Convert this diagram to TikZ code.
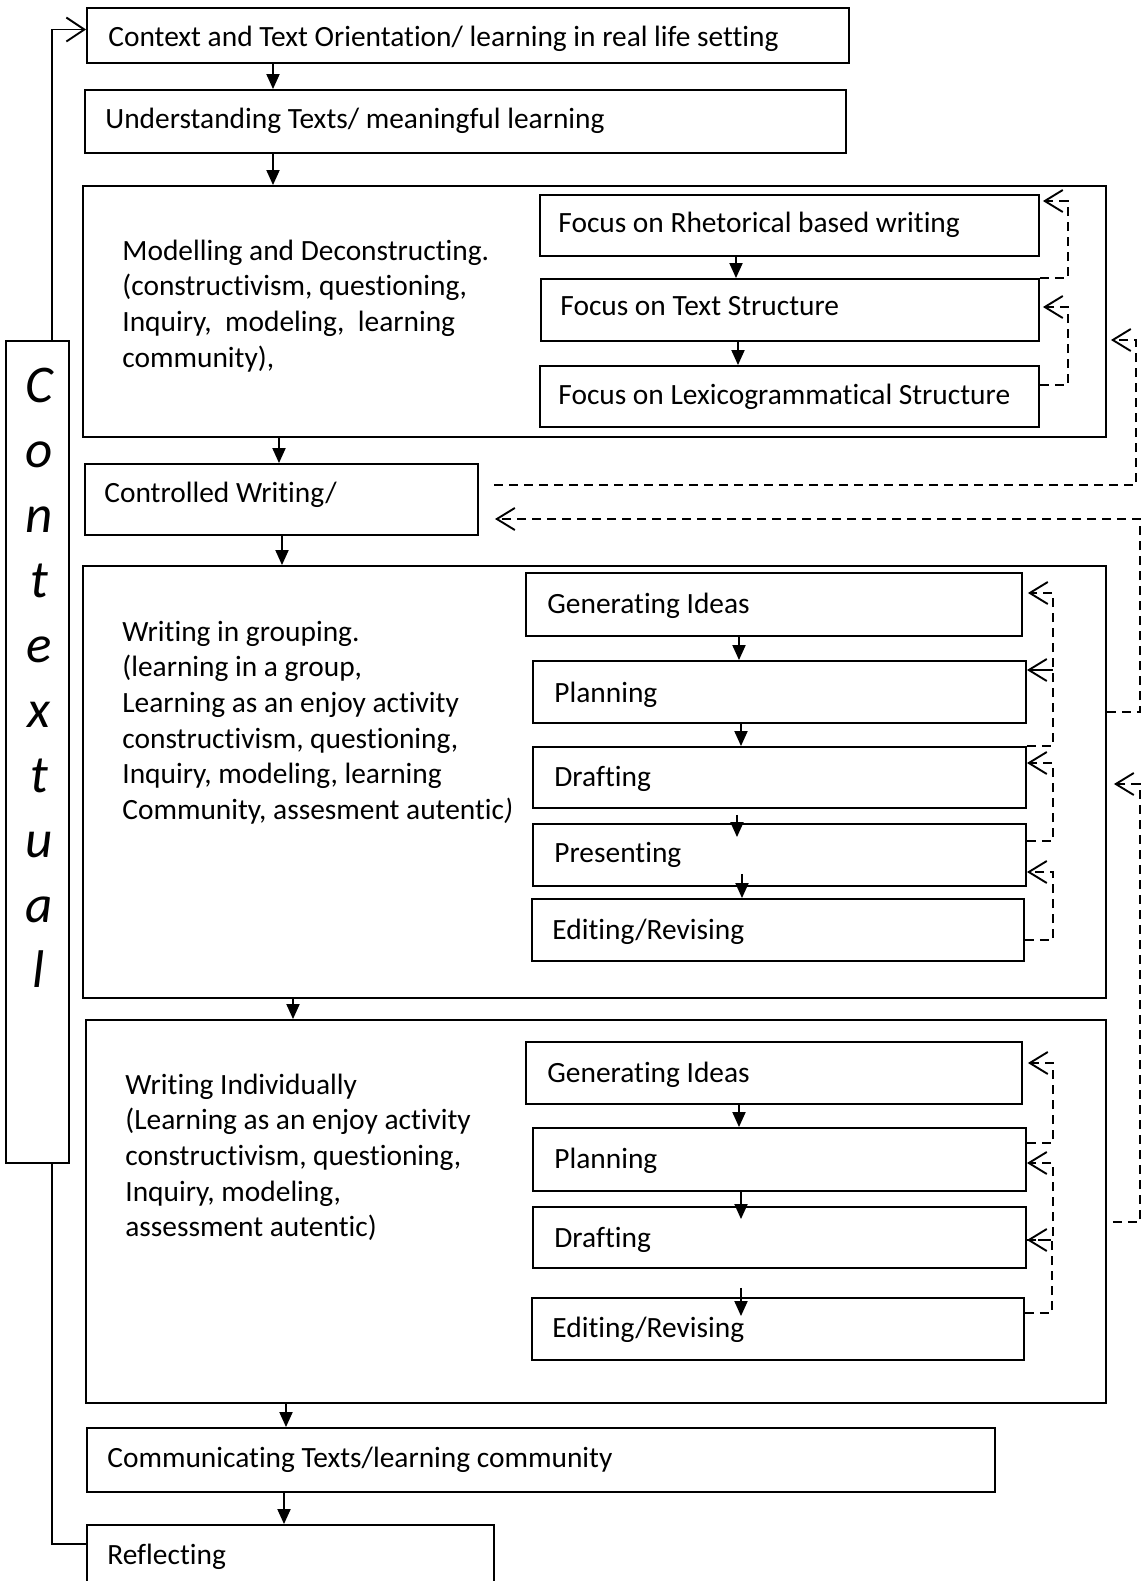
\documentclass[tikz,border=0pt]{standalone}
\usepackage{fontspec}
\setmainfont{Carlito}[Ligatures={NoCommon,NoRare,NoContextual},RawFeature={-liga;-clig;-dlig;-calt}]
\usetikzlibrary{arrows.meta,calc,fit}
\begin{document}
\begin{tikzpicture}[x=0.5pt,y=-0.5pt,
  box/.style={draw, line width=0.95pt, inner sep=0pt},
  txt/.style={anchor=base west, inner sep=0pt, font=\fontsize{14.7}{17.85}\selectfont},
  arr/.style={line width=0.95pt, -{Triangle[length=7.5pt,width=6.5pt]}},
  fb/.style={line width=0.95pt, dash pattern=on 4.5pt off 3pt, -{Straight Barb[length=9pt,width=11pt]}},
  fbsolid/.style={line width=0.95pt, -{Straight Barb[length=9pt,width=11pt]}},
  openarr/.style={line width=0.95pt, -{Straight Barb[length=9pt,width=12pt]}},
  conn/.style={line width=0.95pt},
]
\useasboundingbox (0,0) rectangle (1147,1581);
\clip (0,0) rectangle (1147,1581);

% main column boxes
\node[box, fit={(87,8) (849,63)}] (ctx) {};
\node[txt] (ctxT) at (108,46) {Context and Text Orientation/ learning in real life setting};

\node[box, fit={(85,90) (846,153)}] (und) {};
\node[txt] (undT) at (105,128) {Understanding Texts/ meaningful learning};

\node[box, fit={(83,186) (1106,437)}] (mod) {};
\node[txt] (modT) at (122,260) {\begin{tabular}[t]{@{}l@{}}Modelling and Deconstructing.\\ (constructivism, questioning,\\ Inquiry,\ \ modeling,\ \ learning\\ community),\end{tabular}};
\node[box, fit={(540,195) (1039,256)}] (m1) {};
\node[txt] (m1T) at (558,232) {Focus on Rhetorical based writing};
\node[box, fit={(541,279) (1039,341)}] (m2) {};
\node[txt] (m2T) at (560,315) {Focus on Text Structure};
\node[box, fit={(540,366) (1039,427)}] (m3) {};
\node[txt] (m3T) at (558,404) {Focus on Lexicogrammatical Structure};

\node[box, fit={(85,464) (478,535)}] (ctl) {};
\node[txt] (ctlT) at (104,502) {Controlled Writing/};

\node[box, fit={(83,566) (1106,998)}] (grp) {};
\node[txt] (grpT) at (122,641) {\begin{tabular}[t]{@{}l@{}}Writing in grouping.\\ (learning in a group,\\ Learning as an enjoy activity\\ constructivism, questioning,\\ Inquiry, modeling, learning\\ Community, assesment autentic\textit{)}\end{tabular}};
\node[box, fit={(526,573) (1022,636)}] (g1) {};
\node[txt] (g1T) at (547,613) {Generating Ideas};
\node[box, fit={(533,661) (1026,723)}] (g2) {};
\node[txt] (g2T) at (554,702) {Planning};
\node[box, fit={(533,747) (1026,808)}] (g3) {};
\node[txt] (g3T) at (554,786) {Drafting};
\node[box, fit={(533,824) (1026,886)}] (g4) {};
\node[txt] (g4T) at (554,862) {Presenting};
\node[box, fit={(532,899) (1024,961)}] (g5) {};
\node[txt] (g5T) at (552,939) {Editing/Revising};

\node[box, fit={(86,1020) (1106,1403)}] (ind) {};
\node[txt] (indT) at (125,1094) {\begin{tabular}[t]{@{}l@{}}Writing Individually\\ (Learning as an enjoy activity\\ constructivism, questioning,\\ Inquiry, modeling,\\ assessment autentic)\end{tabular}};
\node[box, fit={(526,1042) (1022,1104)}] (i1) {};
\node[txt] (i1T) at (547,1082) {Generating Ideas};
\node[box, fit={(533,1128) (1026,1191)}] (i2) {};
\node[txt] (i2T) at (554,1168) {Planning};
\node[box, fit={(533,1207) (1026,1268)}] (i3) {};
\node[txt] (i3T) at (554,1247) {Drafting};
\node[box, fit={(532,1298) (1024,1360)}] (i4) {};
\node[txt] (i4T) at (552,1337) {Editing/Revising};

\node[box, fit={(87,1428) (995,1492)}] (com) {};
\node[txt] (comT) at (107,1467) {Communicating Texts/learning community};

\node[box, fit={(87,1525) (494,1600)}] (refl) {};
\node[txt] (reflT) at (107,1564) {Reflecting};

% Contextual side box
\node[box, fit={(6,341) (69,1163)}] (cbox) {};
\foreach \ch [count=\i from 0] in {C,o,n,t,e,x,t,u,a,l}
  \node[anchor=base, inner sep=0pt, font=\fontsize{26.5}{30}\selectfont\itshape] (cl\i) at (39,402+65*\i) {\ch};

% left loop
\coordinate (lx) at (52,0);
\draw[openarr] (cbox.north -| lx) |- (ctx.west |- 0,29.5);
\draw[conn] (cbox.south -| lx) |- (refl.west |- 0,1544);

% main vertical arrows
\draw[arr] (ctx.south -| 273,0) -- (und.north -| 273,0);
\draw[arr] (und.south -| 273,0) -- (mod.north -| 273,0);
\draw[arr] (mod.south -| 279,0) -- (ctl.north -| 279,0);
\draw[arr] (ctl.south -| 282,0) -- (grp.north -| 282,0);
\draw[arr] (grp.south -| 293,0) -- (ind.north -| 293,0);
\draw[arr] (ind.south -| 286,0) -- (com.north -| 286,0);
\draw[arr] (com.south -| 284,0) -- (refl.north -| 284,0);

% modelling inner arrows
\draw[arr] (m1.south -| 736,0) -- (m2.north -| 736,0);
\draw[arr] (m2.south -| 738,0) -- (m3.north -| 738,0);

% grouping inner arrows
\draw[arr] (g1.south -| 739,0) -- (g2.north -| 739,0);
\draw[arr] (g2.south -| 741,0) -- (g3.north -| 741,0);
\draw[arr] ($(g3.south -| 737,0)+(0,6)$) -- ($(g4.north -| 737,0)+(0,14)$);
\draw[arr] ($(g4.south -| 742,0)+(0,-13)$) -- (g5.north -| 742,0);

% individual inner arrows
\draw[arr] (i1.south -| 739,0) -- (i2.north -| 739,0);
\draw[arr] (i2.south -| 741,0) -- ($(i3.north -| 741,0)+(0,13)$);
\draw[arr] ($(i3.south -| 741,0)+(0,19)$) -- ($(i4.north -| 741,0)+(0,19)$);

% modelling feedback
\draw[fb] (m2.north east) -| (1068,201) -- ($(m1.east |- 0,201)+(3,0)$);
\draw[fb] (m3.east |- 0,385) -| (1068,307) -- ($(m2.east |- 0,307)+(3,0)$);

% grouping feedback
\draw[fb] (g3.north east) -| (1053,593) -- ($(g1.east |- 0,593)+(5,0)$);
\coordinate (g2src) at (1053,670);
\draw[fbsolid] (g2src) -- (g2.east |- 0,670);
\draw[fb] (g4.east |- 0,841) -| (1053,763) -- (g3.east |- 0,763);
\draw[fb] (g5.east |- 0,940) -| (1053,872) -- (g4.east |- 0,872);

% individual feedback
\draw[fb] (i2.east |- 0,1143) -| (1053,1063) -- ($(i1.east |- 0,1063)+(5,0)$);
\draw[fb] (i3.east |- 0,1240) -| (1053,1163) -- (i2.east |- 0,1163);
\draw[fb] (i4.east |- 0,1313) -| (1052,1240) -- (i3.east |- 0,1240);

% outer feedback loops
\coordinate (ctlsrc) at (494,485);
\draw[fb] (ctlsrc) -| (1136,340) -- ($(mod.east |- 0,340)+(4,0)$);
\coordinate (ctlend) at (495,519);
\draw[fb] (grp.east |- 0,712) -| (1140,519) -- (ctlend);
\draw[fb] ($(ind.east |- 0,1222)+(6,0)$) -| (1140,784) -- ($(grp.east |- 0,784)+(7,0)$);
\end{tikzpicture}
\end{document}
